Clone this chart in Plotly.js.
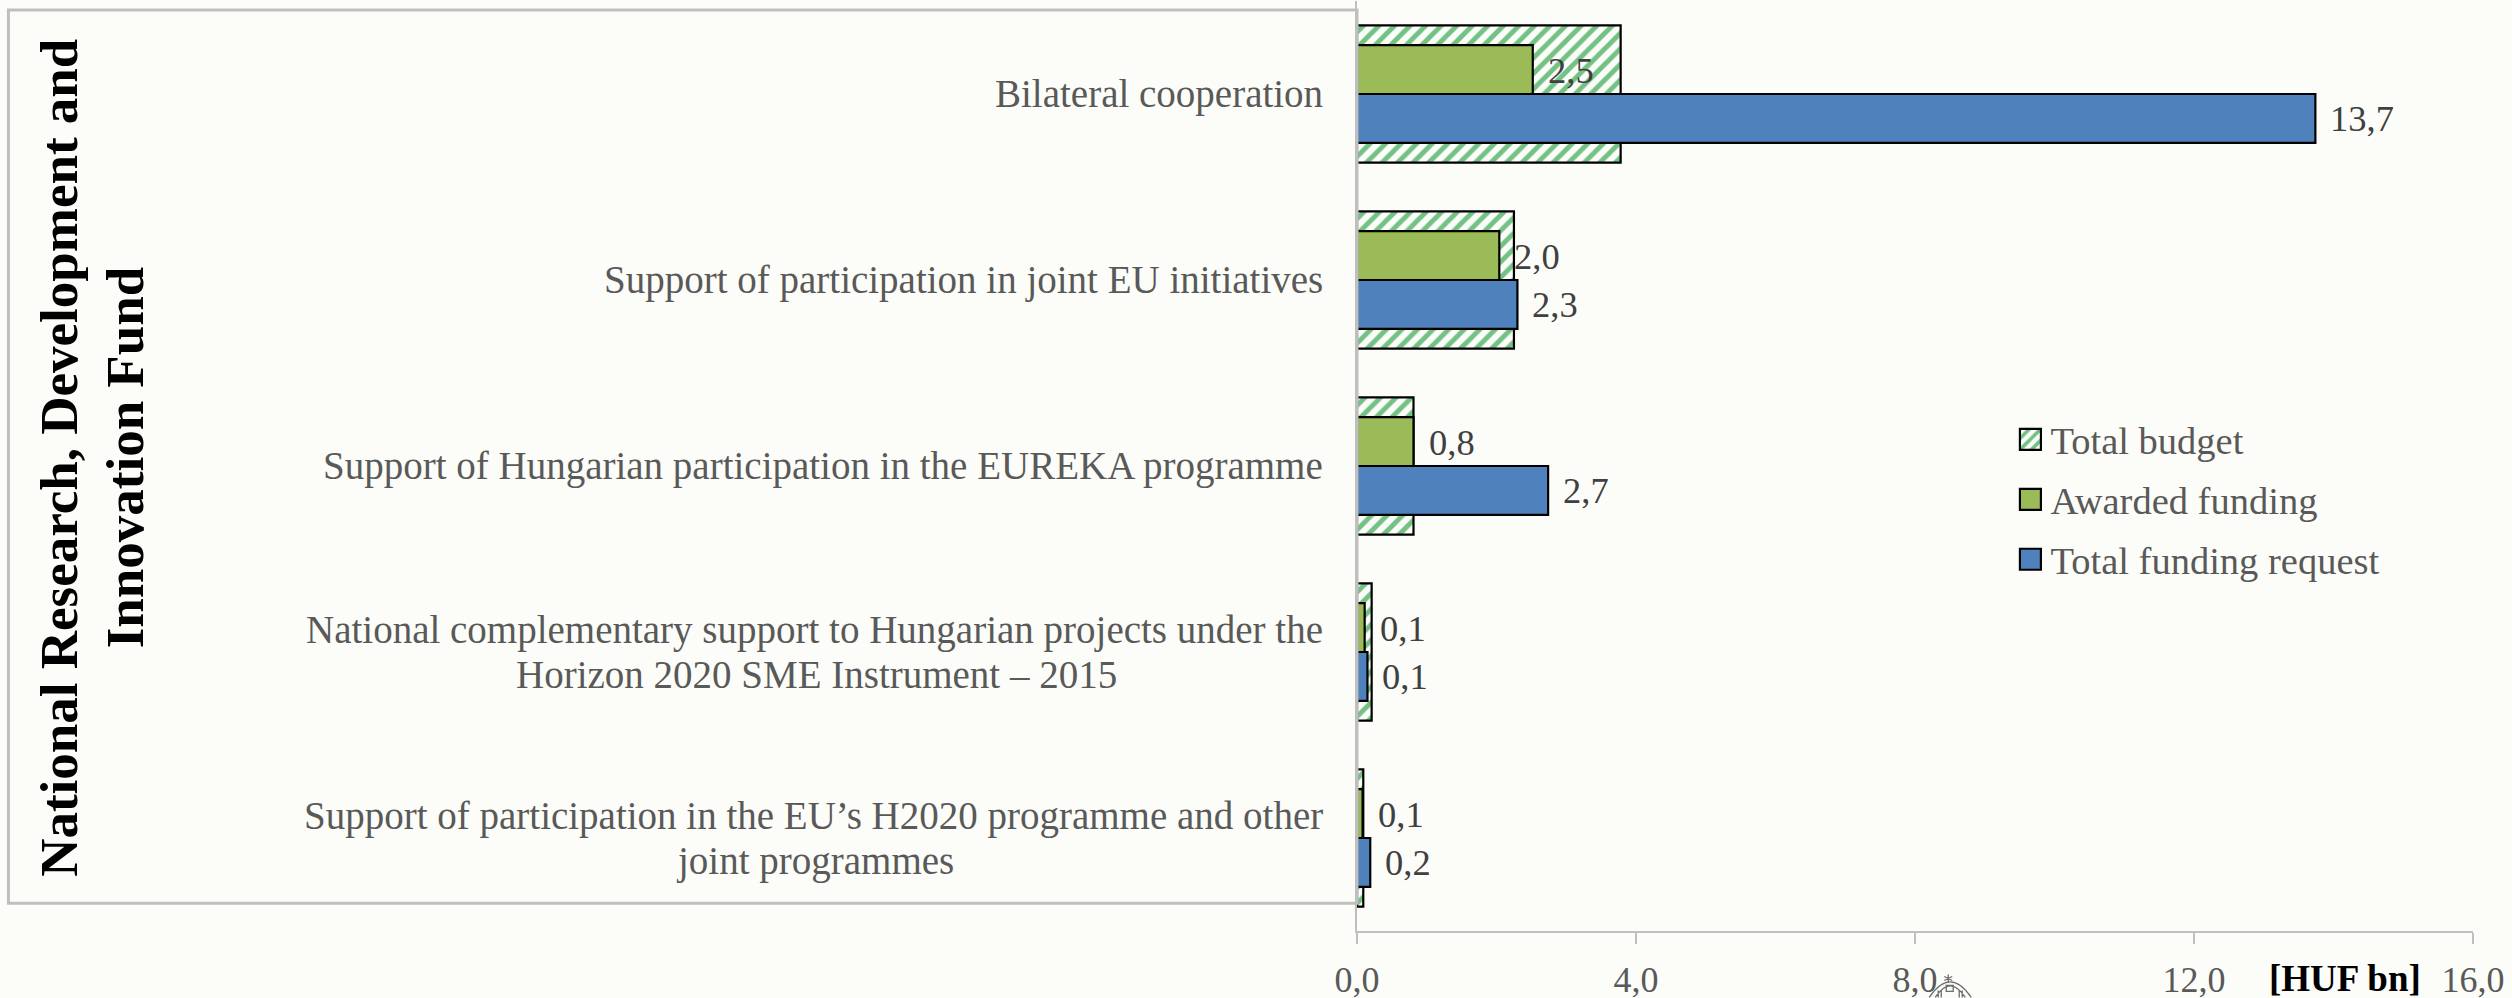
<!DOCTYPE html>
<html><head><meta charset="utf-8">
<script src="https://cdn.plot.ly/plotly-3.0.1.min.js"></script>
<style>
html,body{margin:0;padding:0;background:#fcfdf8;overflow:hidden}
</style>
</head><body><div id="chart" style="width:2512px;height:998px"></div>
<script>
const categories = ["Bilateral cooperation","Support of participation in joint EU initiatives","Support of Hungarian participation in the EUREKA programme","National complementary support to Hungarian projects under the<br>Horizon 2020 SME Instrument – 2015","Support of participation in the EU’s H2020 programme and other<br>joint programmes"];
const totalBudget = [3.78,2.25,0.81,0.21,0.09];
const awardedFunding = [2.52,2.04,0.81,0.11,0.08];
const totalFundingRequest = [13.74,2.3,2.74,0.15,0.19];
const xTicks = [0,4,8,12,16];
const titleLines = ["National Research, Development and","Innovation Fund"];

const SERIF = '"Liberation Serif","Times New Roman",serif';
const GRAY = '#595959';
const fmt = v => v.toFixed(1).replace('.', ',');
const lineStyle = {color:'#000', width:2.2};
const LABEL_SIZE = 39, LABEL_GAP = 32, LINE_GAP = 45;

const traces = [
 {type:'bar',orientation:'h',name:'Total budget',y:categories,x:totalBudget,width:0.737,offset:-0.3685,legend:'legend',
  marker:{color:'#fdfdf9',line:lineStyle,pattern:{shape:'/',fgcolor:'#74c184',bgcolor:'#fbfdf8',size:11,solidity:0.45}},hoverinfo:'x+name'},
 {type:'bar',orientation:'h',name:'Awarded funding',y:categories,x:awardedFunding,width:0.263,offset:-0.263,legend:'legend2',
  marker:{color:'#9bbb59',line:lineStyle},hoverinfo:'x+name'},
 {type:'bar',orientation:'h',name:'Total funding request',y:categories,x:totalFundingRequest,width:0.263,offset:0,legend:'legend3',
  marker:{color:'#4f81bd',line:lineStyle},hoverinfo:'x+name'}
];

const ctx = document.createElement('canvas').getContext('2d');
ctx.font = LABEL_SIZE+'px "Liberation Serif"';
const annotations = [];
categories.forEach((c,i)=>{
  const lines = c.split('<br>');
  const labelFont = {family:SERIF,size:LABEL_SIZE,color:GRAY};
  if(lines.length===1){
    annotations.push({x:0,y:c,xref:'x',yref:'y',xanchor:'right',yanchor:'middle',xshift:-LABEL_GAP,text:c,showarrow:false,font:labelFont});
  } else {
    const w = ctx.measureText(lines[0]).width;
    annotations.push({x:0,y:c,xref:'x',yref:'y',xanchor:'right',yanchor:'middle',xshift:-LABEL_GAP,yshift:LINE_GAP/2,text:lines[0],showarrow:false,font:labelFont});
    annotations.push({x:0,y:c,xref:'x',yref:'y',xanchor:'center',yanchor:'middle',xshift:-LABEL_GAP-w/2,yshift:-LINE_GAP/2,text:lines[1],showarrow:false,font:labelFont});
  }
  annotations.push({x:awardedFunding[i],y:c,xref:'x',yref:'y',xanchor:'left',yanchor:'middle',xshift:13,yshift:24,text:fmt(awardedFunding[i]),showarrow:false,
    font:{family:SERIF,size:36.5,color:'#404040'}});
  annotations.push({x:totalFundingRequest[i],y:c,xref:'x',yref:'y',xanchor:'left',yanchor:'middle',xshift:13,yshift:-24,text:fmt(totalFundingRequest[i]),showarrow:false,
    font:{family:SERIF,size:36.5,color:'#404040'}});
});
titleLines.forEach((t,i)=>annotations.push({xref:'paper',yref:'paper',x:[-1.163,-1.1043][i],y:0.5089,xanchor:'center',yanchor:'middle',textangle:-90,showarrow:false,
  text:'<b>'+t+'</b>',font:{family:SERIF,size:53,color:'#000'}}));
annotations.push({xref:'paper',yref:'paper',x:0.8854,xanchor:'center',y:-0.051,yanchor:'middle',showarrow:false,
  text:'<b>[HUF bn]</b>',font:{family:SERIF,size:37,color:'#000'}});

const legendBase = {x:0.5855,xanchor:'left',yanchor:'middle',bgcolor:'rgba(0,0,0,0)',borderwidth:0,font:{family:SERIF,size:38.5,color:GRAY}};

const W=1116.5,H=930.5,px=x=>((x-1356.5)/W).toFixed(5),py=y=>((931.5-y)/H).toFixed(5);
const seal = ['M',px(1929),py(998),'Q',px(1950),py(967),px(1971),py(998),
  'M',px(1935),py(998),'Q',px(1950),py(975),px(1965),py(998),
  'M',px(1948),py(975),'L',px(1948),py(983),'M',px(1944),py(977),'L',px(1952),py(981),'M',px(1952),py(977),'L',px(1944),py(981),
  'M',px(1946),py(986),'L',px(1946),py(992),'L',px(1953),py(992),'L',px(1953),py(986),'Z',
  'M',px(1938),py(991),'L',px(1938),py(998),'M',px(1941),py(991),'L',px(1941),py(998),
  'M',px(1959),py(991),'L',px(1959),py(998),'M',px(1962),py(991),'L',px(1962),py(998)].join(' ');

const layout = {
 width:2512,height:998,
 paper_bgcolor:'#fcfdf8',plot_bgcolor:'rgba(0,0,0,0)',
 margin:{l:1356.5,r:39,t:1,b:66.5,autoexpand:false},
 barmode:'overlay',showlegend:true,
 separators:', ',
 legend:Object.assign({},legendBase,{y:0.5282}),
 legend2:Object.assign({},legendBase,{y:0.4637}),
 legend3:Object.assign({},legendBase,{y:0.3992}),
 xaxis:{range:[0,16],tickvals:xTicks,tickformat:'.1f',showgrid:false,zeroline:false,showline:true,linecolor:'#bfbfbf',linewidth:2,
   ticks:'outside',ticklen:11,tickwidth:1.5,tickcolor:'#bfbfbf',ticklabelstandoff:5,tickfont:{family:SERIF,size:36,color:GRAY}},
 yaxis:{type:'category',categoryorder:'array',categoryarray:categories,autorange:'reversed',showticklabels:false,ticks:'',showgrid:false,zeroline:false,
   showline:true,linecolor:'#bfbfbf',linewidth:1.5},
 annotations,
 shapes:[
  {type:'rect',xref:'paper',yref:'paper',layer:'above',x0:-1.2084,x1:0,y0:0.0298,y1:0.9903,line:{color:'#bfbfbf',width:3},fillcolor:'rgba(0,0,0,0)'},
  {type:'path',xref:'paper',yref:'paper',layer:'above',path:seal,line:{color:'#6e6e6e',width:1.3},fillcolor:'rgba(0,0,0,0)'}
 ]
};
Plotly.newPlot('chart',traces,layout,{displayModeBar:false,responsive:false}).then(()=>{
  document.querySelectorAll('.legendpoints path').forEach(p=>p.setAttribute('d','M10.5,10.5H-10.5V-10.5H10.5Z'));
});
</script></body></html>
